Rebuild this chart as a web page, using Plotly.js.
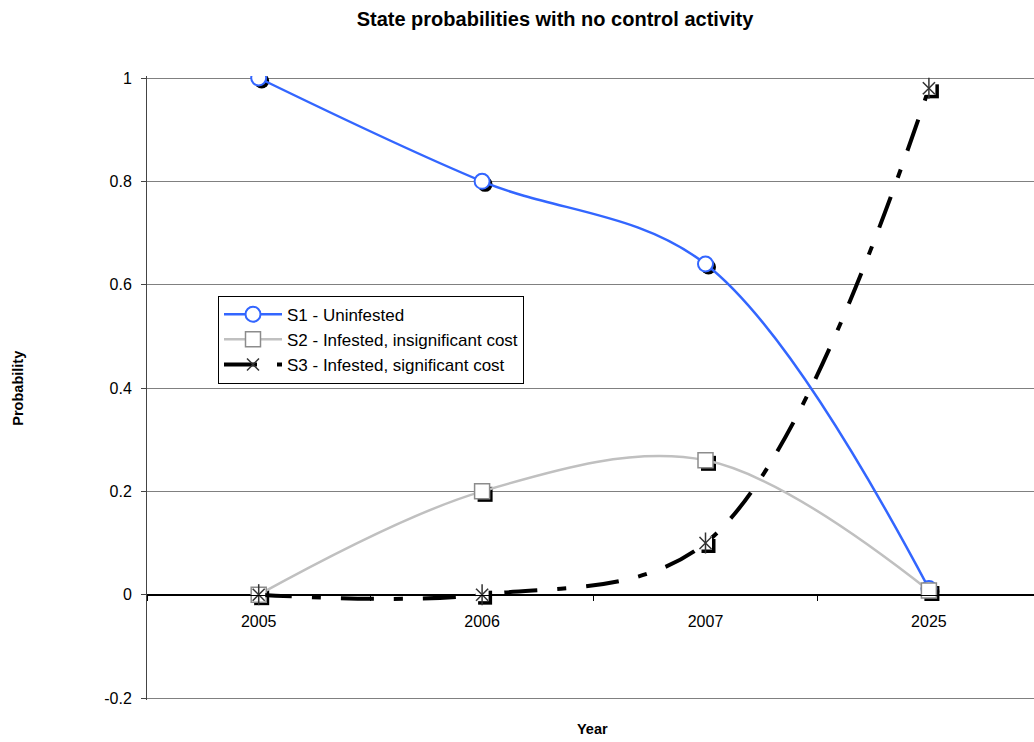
<!DOCTYPE html>
<html>
<head>
<meta charset="utf-8">
<script src="https://cdn.plot.ly/plotly-3.0.1.min.js"></script>
<style>html,body{margin:0;padding:0;background:#fff;}#chart{width:1034px;height:742px;}</style>
</head>
<body>
<div id="chart"></div>
<script>
const years = ['2005', '2006', '2007', '2025'];
const s1Name = 'S1 - Uninfested';
const s2Name = 'S2 - Infested, insignificant cost';
const s3Name = 'S3 - Infested, significant cost';
const s1 = [1.0, 0.8, 0.64, 0.012];
const s2 = [0.0, 0.2, 0.26, 0.008];
const s3 = [0.0, 0.0, 0.10, 0.98];
const yTicks = [-0.2, 0, 0.2, 0.4, 0.6, 0.8, 1];
const yTickText = ['-0.2', '0', '0.2', '0.4', '0.6', '0.8', '1'];
const chartTitle = 'State probabilities with no control activity';
const xTitle = 'Year';
const yTitle = 'Probability';

const W = 1034, H = 742;
const pxPerUnit = 620 / 1.2;
const padPx = 2; // keep edge gridlines drawable
const eps = padPx / pxPerUnit;
const mL = 147, mR = 0, mT = 78.3 - padPx, mB = 43.7 - padPx;
const plotW = W - mL - mR, plotH = H - mT - mB;
const catW = 223.4;
const xr = [-0.5, -0.5 + plotW / catW];
const yr = [-0.2 - eps, 1 + eps];
const sh = 3; // shadow offset px
const dx = sh * (xr[1] - xr[0]) / plotW;
const dy = sh * (yr[1] - yr[0]) / plotH;

const FONT = 'Liberation Sans, Arial, Helvetica, sans-serif';

function shadow(vals, symbol, size) {
  return {
    x: years, y: vals, xaxis: 'x', yaxis: 'y', type: 'scatter', mode: 'markers',
    marker: {symbol: symbol, size: size, color: '#000', line: {width: 0}},
    showlegend: false, hoverinfo: 'skip'
  };
}

const starX = {symbol: 'x-thin-open', size: 12, color: '#333', line: {color: '#333', width: 1.5}};

const data = [
  shadow(s1, 'circle', 15),
  shadow(s2, 'square', 15),
  shadow(s3, 'square', 14),
  {
    x: years, y: s1, name: s1Name, xaxis: 'x2', yaxis: 'y2', type: 'scatter', mode: 'lines+markers',
    line: {color: '#3366FF', width: 2.5, shape: 'spline', smoothing: 1},
    marker: {symbol: 'circle', size: 15, color: '#fff', line: {color: '#3366FF', width: 2}}
  },
  {
    x: years, y: s2, name: s2Name, xaxis: 'x2', yaxis: 'y2', type: 'scatter', mode: 'lines+markers',
    line: {color: '#C0C0C0', width: 2.5, shape: 'spline', smoothing: 1},
    marker: {symbol: 'square', size: 15, color: '#fff', line: {color: '#8c8c8c', width: 1.5}}
  },
  {
    x: years, y: s3, name: s3Name, xaxis: 'x2', yaxis: 'y2', type: 'scatter', mode: 'lines+markers',
    line: {color: '#000', width: 4, shape: 'spline', smoothing: 1, dash: '33px,20px,9px,20px'},
    marker: starX
  },
  {
    x: years, y: s3, xaxis: 'x2', yaxis: 'y2', type: 'scatter', mode: 'markers',
    marker: {symbol: 'square', size: 13, color: '#fff', line: {width: 0}},
    showlegend: false, hoverinfo: 'skip'
  },
  {
    x: years, y: s3, xaxis: 'x2', yaxis: 'y2', type: 'scatter', mode: 'markers',
    marker: starX, showlegend: false, hoverinfo: 'skip'
  },
  {
    x: years, y: s3, xaxis: 'x2', yaxis: 'y2', type: 'scatter', mode: 'markers',
    marker: {symbol: 'line-ns-open', size: 15, color: '#333', line: {color: '#333', width: 1.5}},
    showlegend: false, hoverinfo: 'skip'
  }
];

const layout = {
  width: W, height: H,
  margin: {l: mL, r: mR, t: mT, b: mB, pad: 0},
  paper_bgcolor: '#fff', plot_bgcolor: 'rgba(0,0,0,0)',
  font: {family: FONT, size: 16, color: '#000'},
  showlegend: true,
  title: {text: chartTitle, font: {family: FONT, size: 20, color: '#000', weight: 'bold'},
          x: 555 / W, xanchor: 'center', y: 1 - 19 / H, yanchor: 'middle'},
  xaxis: {type: 'category', categoryorder: 'array', categoryarray: years,
          range: [xr[0] - dx, xr[1] - dx], visible: false, fixedrange: true},
  yaxis: {range: [yr[0] + dy, yr[1] + dy], visible: false, fixedrange: true},
  xaxis2: {type: 'category', categoryorder: 'array', categoryarray: years,
           overlaying: 'x', anchor: 'free', position: (0 - yr[0]) / (yr[1] - yr[0]),
           range: xr, showgrid: false, zeroline: false,
           showline: true, linecolor: '#000', linewidth: 1,
           ticks: 'outside', ticklen: 5, tickcolor: '#000', tickson: 'boundaries',
           tickfont: {family: FONT, size: 16, color: '#000'}, ticklabelstandoff: 12,
           automargin: false, fixedrange: true},
  yaxis2: {overlaying: 'y', anchor: 'x2', side: 'left', range: yr,
           tickmode: 'array', tickvals: yTicks, ticktext: yTickText,
           showgrid: true, gridcolor: '#808080', gridwidth: 1,
           zeroline: true, zerolinecolor: '#000', zerolinewidth: 1,
           showline: true, linecolor: '#444', linewidth: 1,
           ticks: 'outside', ticklen: 5, tickcolor: '#444',
           tickfont: {family: FONT, size: 16, color: '#000'}, ticklabelstandoff: 6,
           automargin: false, fixedrange: true},
  legend: {x: (218 - mL) / plotW, y: (H - mB - 296) / plotH, xanchor: 'left', yanchor: 'top',
           bgcolor: '#fff', bordercolor: '#000', borderwidth: 1, itemwidth: 58,
           font: {family: FONT, size: 17, color: '#000'}, tracegroupgap: 0},
  annotations: [
    {text: xTitle, xref: 'paper', yref: 'paper', x: (592 - mL) / plotW, y: (H - mB - 729) / plotH,
     xanchor: 'center', yanchor: 'middle', showarrow: false,
     font: {family: FONT, size: 14.5, color: '#000', weight: 'bold'}},
    {text: yTitle, xref: 'paper', yref: 'paper', x: (18 - mL) / plotW, y: (H - mB - 389) / plotH,
     xanchor: 'center', yanchor: 'middle', showarrow: false, textangle: -90,
     font: {family: FONT, size: 14.5, color: '#000', weight: 'bold'}}
  ]
};

Plotly.newPlot('chart', data, layout, {displayModeBar: false, staticPlot: true});
</script>
</body>
</html>
